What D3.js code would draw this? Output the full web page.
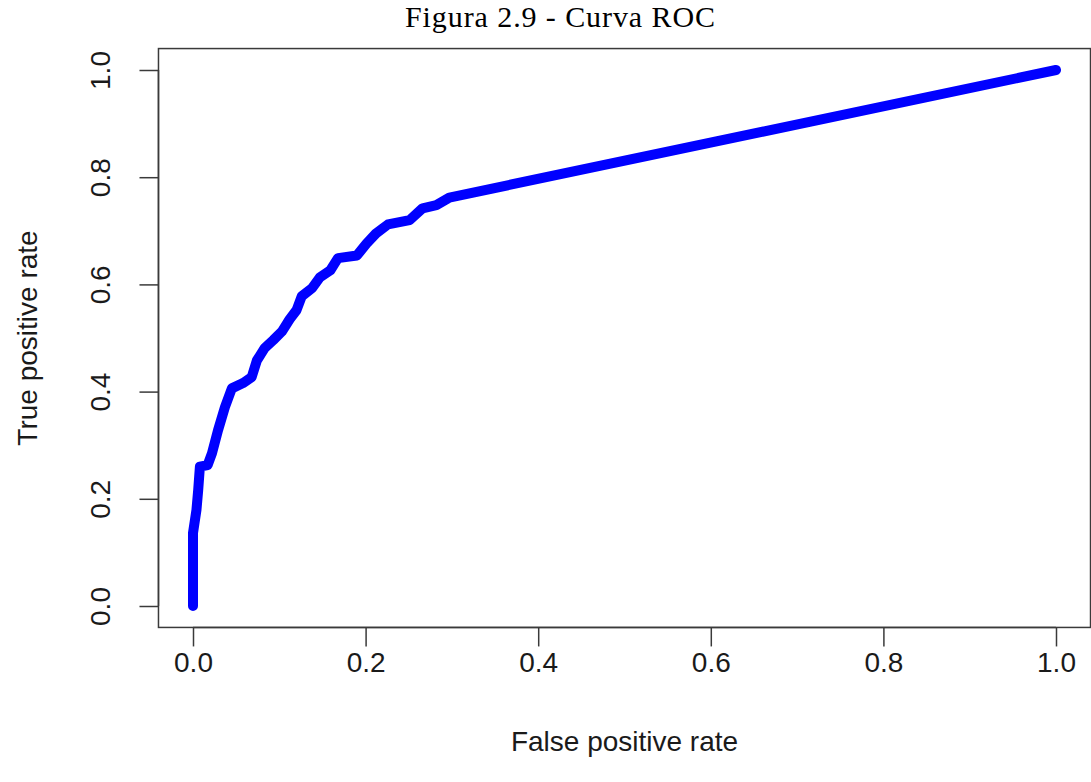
<!DOCTYPE html>
<html>
<head>
<meta charset="utf-8">
<script src="https://cdn.jsdelivr.net/npm/d3@7"></script>
<style>
  body { margin: 0; background: #fff; }
  svg { display: block; }
</style>
</head>
<body>
<svg id="chart" width="1091" height="782"></svg>
<script>
// ROC curve points
let fpr = [0, 0, 0.004, 0.006, 0.008, 0.017, 0.022, 0.029, 0.037, 0.045, 0.058, 0.068,
           0.074, 0.083, 0.093, 0.103, 0.112, 0.120, 0.126, 0.138, 0.147, 0.159, 0.168,
           0.190, 0.201, 0.212, 0.226, 0.251, 0.266, 0.282, 0.297, 1.0];
let tpr = [0, 0.136, 0.179, 0.216, 0.260, 0.263, 0.285, 0.328, 0.371, 0.406, 0.416, 0.427,
           0.458, 0.481, 0.496, 0.512, 0.535, 0.552, 0.578, 0.593, 0.613, 0.626, 0.649,
           0.654, 0.676, 0.695, 0.712, 0.720, 0.742, 0.748, 0.762, 1.0];
let xTicks = [0, 0.2, 0.4, 0.6, 0.8, 1.0];
let yTicks = [0, 0.2, 0.4, 0.6, 0.8, 1.0];

let title = "Figura 2.9 - Curva ROC";
let xTitle = "False positive rate";
let yTitle = "True positive rate";

let svg = d3.select("#chart");

let x = d3.scaleLinear().domain([0, 1]).range([193, 1056]);
let y = d3.scaleLinear().domain([0, 1]).range([606, 70]);

// R pads the plot region by 4% on each side
let box = {
    left: x(-0.04),
    right: x(1.04),
    top: y(1.04),
    bottom: y(-0.04)
};

let axisColor = "#3a3a3a";
let fontSans = "'Liberation Sans', Arial, Helvetica, sans-serif";

svg.append("text")
    .attr("x", 560)
    .attr("y", 27)
    .attr("text-anchor", "middle")
    .attr("font-family", "'Liberation Serif', 'Times New Roman', serif")
    .attr("font-size", 30)
    .attr("textLength", 310)
    .attr("lengthAdjust", "spacing")
    .text(title);

svg.append("rect")
    .attr("x", box.left)
    .attr("y", box.top)
    .attr("width", box.right - box.left)
    .attr("height", box.bottom - box.top)
    .attr("fill", "none")
    .attr("stroke", axisColor)
    .attr("stroke-width", 1.5);

// bottom axis
let xAxis = d3.axisBottom(x)
    .tickValues(xTicks)
    .tickSize(19)
    .tickPadding(6)
    .tickFormat(d3.format(".1f"));

let gx = svg.append("g")
    .attr("transform", `translate(0,${box.bottom})`)
    .call(xAxis);
gx.select(".domain").remove();
gx.selectAll(".tick line").attr("stroke", axisColor).attr("stroke-width", 1.5);
gx.selectAll(".tick text")
    .attr("font-family", fontSans)
    .attr("font-size", 28)
    .attr("fill", "#1a1a1a");
gx.append("line")
    .attr("x1", x(0)).attr("x2", x(1))
    .attr("stroke", axisColor).attr("stroke-width", 1.5);

// left axis, labels rotated like R's las = 0
let yAxis = d3.axisLeft(y)
    .tickValues(yTicks)
    .tickSize(19)
    .tickFormat(d3.format(".1f"));

let gy = svg.append("g")
    .attr("transform", `translate(${box.left},0)`)
    .call(yAxis);
gy.select(".domain").remove();
gy.selectAll(".tick line").attr("stroke", axisColor).attr("stroke-width", 1.5);
gy.selectAll(".tick text")
    .attr("x", null)
    .attr("dy", null)
    .attr("transform", "translate(-48,0) rotate(-90)")
    .attr("text-anchor", "middle")
    .attr("font-family", fontSans)
    .attr("font-size", 28)
    .attr("fill", "#1a1a1a");
gy.append("line")
    .attr("y1", y(0)).attr("y2", y(1))
    .attr("stroke", axisColor).attr("stroke-width", 1.5);

svg.append("text")
    .attr("x", (x(0) + x(1)) / 2)
    .attr("y", 751)
    .attr("text-anchor", "middle")
    .attr("font-family", fontSans)
    .attr("font-size", 28)
    .attr("fill", "#1a1a1a")
    .text(xTitle);

svg.append("text")
    .attr("transform", `translate(37,${(y(0) + y(1)) / 2}) rotate(-90)`)
    .attr("text-anchor", "middle")
    .attr("font-family", fontSans)
    .attr("font-size", 28)
    .attr("fill", "#1a1a1a")
    .text(yTitle);

// the curve
let points = fpr.map((d, i) => [d, tpr[i]]);
let line = d3.line()
    .x((d) => x(d[0]))
    .y((d) => y(d[1]));

svg.append("path")
    .datum(points)
    .attr("d", line)
    .attr("fill", "none")
    .attr("stroke", "#0000ff")
    .attr("stroke-width", 10)
    .attr("stroke-linecap", "round")
    .attr("stroke-linejoin", "round");
</script>
</body>
</html>
